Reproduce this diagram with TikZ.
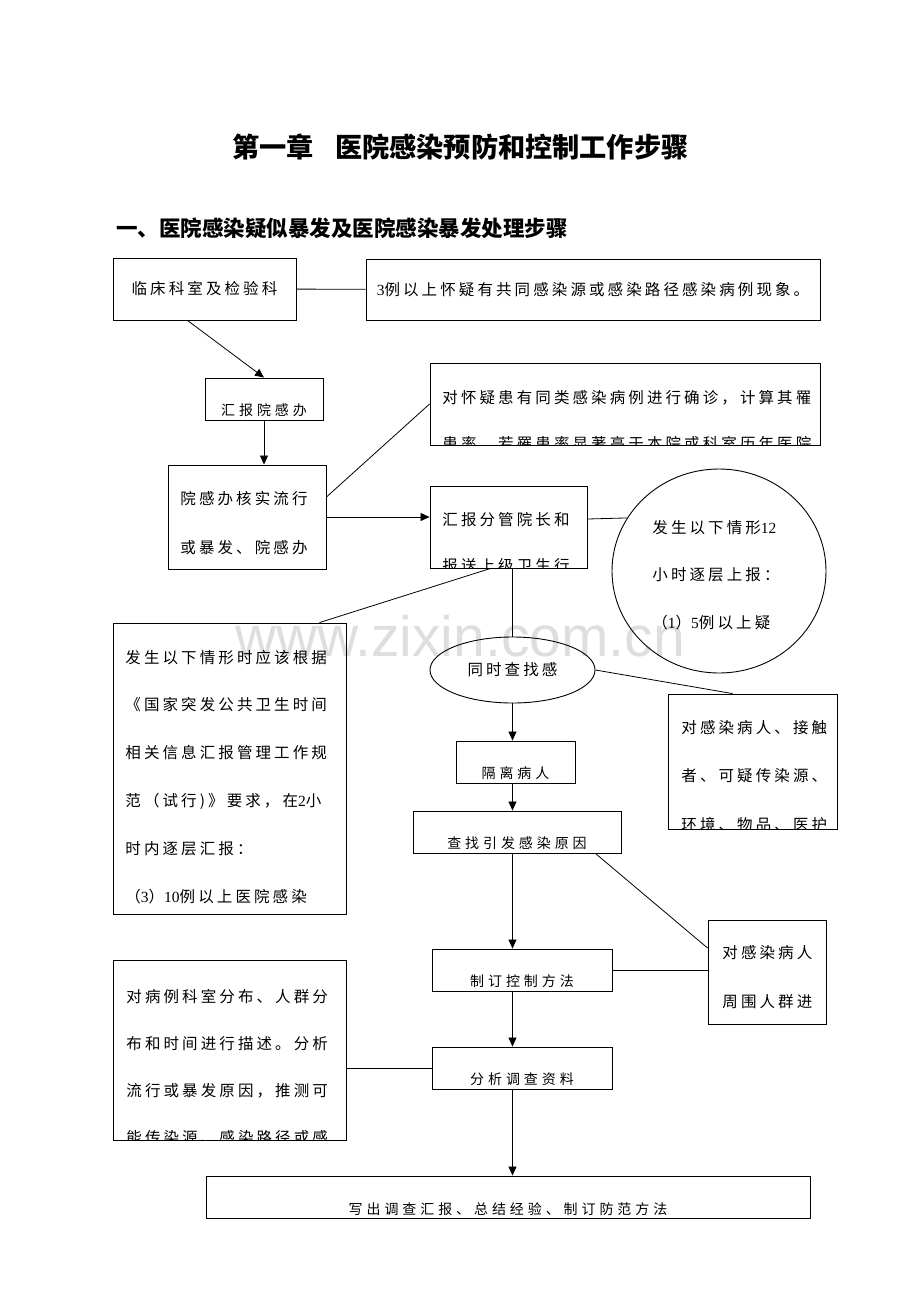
\documentclass[tikz,border=0pt]{standalone}
\usepackage{fontspec}
\usepackage{tikz}
\usetikzlibrary{arrows.meta,shapes.geometric}
\newfontfamily\cnfont{Noto Sans CJK SC}[LetterSpace=20]
\newfontfamily\cnsfont{Noto Sans CJK SC}[LetterSpace=28]
\newfontfamily\heifont{Noto Sans CJK SC}
\newfontfamily\digfont{Liberation Serif}
\newfontfamily\markfont{Liberation Sans}
\newcommand\dig[1]{{\digfont #1}}
\tikzset{
    box/.style={draw, line width=0.9pt, inner sep=0pt},
    bare/.style={shape=rectangle, draw=none, minimum width=0pt, minimum height=0pt},
    row/.style={inner sep=0pt, font=\cnfont\fontsize{15.5}{18}\selectfont},
    srow/.style={inner sep=0pt, font=\cnsfont\fontsize{14}{16}\selectfont},
    oneline/.style 2 args={path picture={
        \node[bare, srow, anchor=base] at ([yshift=-#1pt]path picture bounding box.north) {#2};}},
    rows/.style n args={4}{path picture={
        \foreach \rowtxt [count=\i from 0] in {#4}
            \node[bare, row, anchor=base west] at ([xshift=#1pt, yshift={-(#2+#3*\i)*1pt}]path picture bounding box.north west) {\rowtxt};}},
    link/.style={line width=0.8pt},
    go/.style={link, -{Triangle[length=9pt, width=8pt]}},
}

\begin{document}
\begin{tikzpicture}[x=1pt, y=-1pt]
\useasboundingbox (0,0) rectangle (920,1302);
\node[text=black!13, font=\markfont\fontsize{57}{60}\selectfont] (mark) at (460,636) {www.zixin.com.cn};
\node[font=\heifont\bfseries\fontsize{27.2}{32}\selectfont] (title) at (460.5,147) {第一章\hspace{21pt}医院感染预防和控制工作步骤};
\node[anchor=west, inner sep=0pt, font=\heifont\bfseries\fontsize{21.5}{26}\selectfont] (sub) at (116,228) {一、医院感染疑似暴发及医院感染暴发处理步骤};

\node[box, row, minimum width=183pt, minimum height=62pt] (lab) at (204.5,289) {临床科室及检验科};
\node[box, row, minimum width=454pt, minimum height=61pt] (susp) at (593,289.5) {\dig{3}例以上怀疑有共同感染源或感染路径感染病例现象。};
\node[box, minimum width=118pt, minimum height=42pt, oneline={37}{汇报院感办}] (rep) at (264,399) {};
\node[box, minimum width=158pt, minimum height=104pt, rows={12}{39}{49}{院感办核实流行,或暴发、院感办}] (chk) at (247,517) {};
\node[box, minimum width=390pt, minimum height=82pt, rows={12}{40}{46}{对怀疑患有同类感染病例进行确诊，计算其罹,患率，若罹患率显著高于本院或科室历年医院}] (conf) at (625,404) {};
\node[box, minimum width=157pt, minimum height=82pt, rows={12}{39}{46}{汇报分管院长和,报送上级卫生行}] (hosp) at (508.5,527) {};
\node[box, ellipse, minimum width=214pt, minimum height=204pt, rows={40}{64}{47.5}{发生以下情形\dig{12},小时逐层上报：,（\dig{1}）\dig{5}例以上疑}] (circ) at (719,571) {};
\node[box, minimum width=233pt, minimum height=291pt, rows={12}{40}{47.8}{发生以下情形时应该根据,《国家突发公共卫生时间,相关信息汇报管理工作规,范（试行)》要求，在\dig{2}小,时内逐层汇报：,（\dig{3}）\dig{10}例以上医院感染}] (law) at (229.5,768.5) {};
\node[box, ellipse, row, minimum width=165pt, minimum height=66pt] (find) at (512.5,670) {同时查找感};
\node[box, minimum width=169pt, minimum height=135pt, rows={13}{39}{48.5}{对感染病人、接触,者、可疑传染源、,环境、物品、医护}] (cont) at (752.5,761.5) {};
\node[box, minimum width=119pt, minimum height=42pt, oneline={37}{隔离病人}] (iso) at (515.5,762) {};
\node[box, minimum width=208pt, minimum height=42pt, oneline={37}{查找引发感染原因}] (cause) at (517,832) {};
\node[box, minimum width=180pt, minimum height=42pt, oneline={37}{制订控制方法}] (plan) at (522,970) {};
\node[box, minimum width=118pt, minimum height=104pt, rows={14}{38}{49}{对感染病人,周围人群进}] (peo) at (767,972) {};
\node[box, minimum width=180pt, minimum height=42pt, oneline={37}{分析调查资料}] (ana) at (522,1068) {};
\node[box, minimum width=233pt, minimum height=180pt, rows={13}{42}{47}{对病例科室分布、人群分,布和时间进行描述。分析,流行或暴发原因，推测可,能传染源、感染路径或感}] (desc) at (229.5,1050) {};
\node[box, minimum width=604pt, minimum height=42pt, oneline={38}{写出调查汇报、总结经验、制订防范方法}] (final) at (508,1197) {};

\draw[link] (lab) -- (susp);
\draw[go] ([xshift=-17pt]lab.south) -- (rep.north);
\draw[go] (rep.south) -- (rep.south |- chk.north);
\draw[link] ([yshift=20pt]chk.east) -- (conf.west);
\draw[go] (chk.east) -- (chk.east -| hosp.west);
\draw[link] ([yshift=8pt]hosp.east) -- (circ.150);
\draw[link] ([xshift=-18pt]hosp.south) -- ([xshift=90pt]law.north);
\draw[link] (find.north |- hosp.south) -- (find.north);
\draw[link] (find.east) -- ([xshift=-20pt]cont.north);
\draw[go] (find.south) -- (find.south |- iso.north);
\draw[go] (iso.south -| find.south) -- (cause.north -| find.south);
\draw[link] ([xshift=-26pt]cause.south east) -- ([yshift=24pt]peo.west);
\draw[go] (cause.south -| find.south) -- (plan.north -| find.south);
\draw[link] (plan.east) -- (plan.east -| peo.west);
\draw[go] (plan.south -| find.south) -- (ana.north -| find.south);
\draw[link] (ana.west -| desc.east) -- (ana.west);
\draw[go] (ana.south -| find.south) -- (final.north -| find.south);
\end{tikzpicture}
\end{document}
